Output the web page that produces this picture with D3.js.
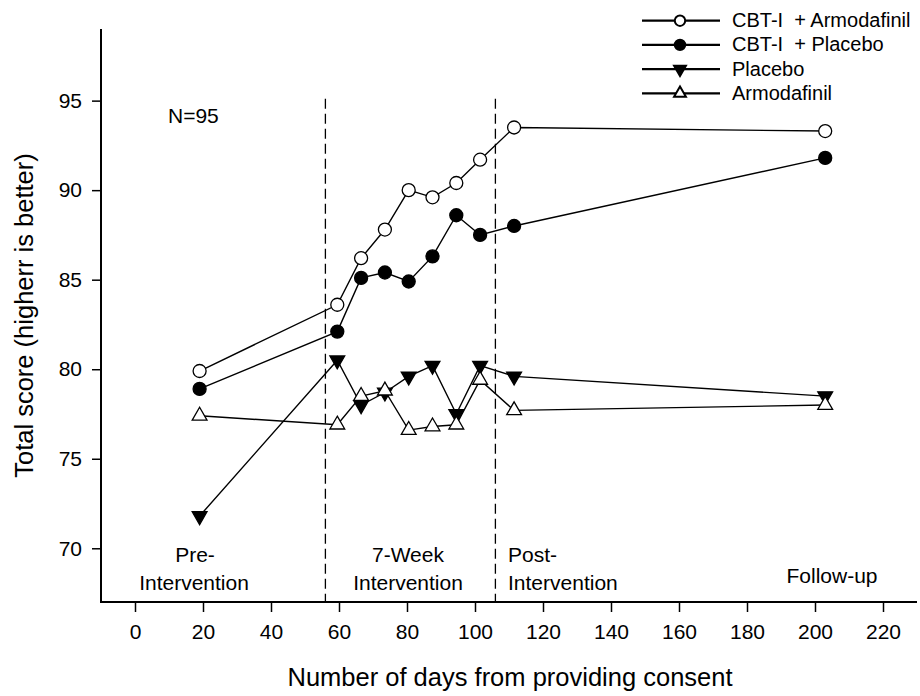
<!DOCTYPE html>
<meta charset="utf-8">
<script src="https://d3js.org/d3.v7.min.js"></script>
<style>
  body { margin: 0; background: #fff; }
  text { font-family: "Liberation Sans", Arial, sans-serif; fill: #000; }
</style>
<svg id="chart" width="920" height="696"></svg>
<script>

// data
var days = [19, 59.5, 66.5, 73.5, 80.5, 87.5, 94.5, 101.5, 111.5, 203];
var cbtArmodafinil = [79.9, 83.6, 86.2, 87.8, 90.0, 89.6, 90.4, 91.7, 93.5, 93.3];
var cbtPlacebo     = [78.9, 82.1, 85.1, 85.4, 84.9, 86.3, 88.6, 87.5, 88.0, 91.8];
var placebo        = [71.8, 80.5, 78.0, 78.7, 79.6, 80.2, 77.5, 80.2, 79.6, 78.5];
var armodafinil    = [77.4, 76.9, 78.5, 78.8, 76.6, 76.8, 76.9, 79.4, 77.7, 78.0];

var seriesNames = ["CBT-I  + Armodafinil", "CBT-I  + Placebo", "Placebo", "Armodafinil"];
var xTicks = [0, 20, 40, 60, 80, 100, 120, 140, 160, 180, 200, 220];
var yTicks = [70, 75, 80, 85, 90, 95];
var phaseBounds = [56, 106];

var svg = d3.select("#chart");

var x = d3.scaleLinear().domain([-10, 230]).range([101, 917]);
var y = d3.scaleLinear().domain([67, 99]).range([602, 29]);

// series table: marker style per group
var series = [
  { name: seriesNames[0], values: cbtArmodafinil, shape: "circle", fill: "#fff" },
  { name: seriesNames[1], values: cbtPlacebo, shape: "circle", fill: "#000" },
  { name: seriesNames[2], values: placebo, shape: "down", fill: "#000" },
  { name: seriesNames[3], values: armodafinil, shape: "up", fill: "#fff" }
];

function marker(sel, shape, scale) {
  if (shape == "circle") {
    return sel.append("circle").attr("r", 6.5 * scale);
  }
  return sel.append("path")
    .attr("d", d3.symbol().type(d3.symbolTriangle).size(95 * scale * scale)())
    .attr("transform", shape == "down" ? "rotate(180)" : null);
}

// axes
var xAxis = svg.append("g")
  .attr("transform", "translate(0,603)")
  .call(d3.axisBottom(x).tickValues(xTicks).tickSize(9).tickPadding(12));
var yAxis = svg.append("g")
  .attr("transform", "translate(101,0)")
  .call(d3.axisLeft(y).tickValues(yTicks).tickSize(9).tickPadding(10));

[xAxis, yAxis].forEach(function(a) {
  a.select(".domain").remove();
  a.selectAll(".tick line").attr("stroke", "#000").attr("stroke-width", 1.5);
  a.selectAll(".tick text").attr("font-size", 21).style("font-family", "Liberation Sans, Arial, sans-serif");
});

svg.append("line").attr("x1", 101).attr("x2", 101).attr("y1", y(99)).attr("y2", 603)
  .attr("stroke", "#000").attr("stroke-width", 2);
svg.append("line").attr("x1", 100).attr("x2", x(230)).attr("y1", 602).attr("y2", 602)
  .attr("stroke", "#000").attr("stroke-width", 2);

// phase boundaries
svg.selectAll(".phase")
  .data(phaseBounds)
  .enter()
  .append("line")
    .attr("x1", function(d) { return x(d); })
    .attr("x2", function(d) { return x(d); })
    .attr("y1", y(95.1))
    .attr("y2", 601)
    .attr("stroke", "#000")
    .attr("stroke-width", 1.3)
    .attr("stroke-dasharray", "10,5");

// lines
var line = d3.line()
  .x(function(d, i) { return x(days[i]); })
  .y(function(d) { return y(d); });

series.forEach(function(s) {
  svg.append("path")
    .attr("d", line(s.values))
    .attr("fill", "none")
    .attr("stroke", "#000")
    .attr("stroke-width", 1.4);
});

// markers
series.forEach(function(s) {
  s.values.forEach(function(v, i) {
    var g = svg.append("g").attr("transform", "translate(" + x(days[i]) + "," + y(v) + ")");
    marker(g, s.shape, 1).attr("fill", s.fill).attr("stroke", "#000").attr("stroke-width", 1.3);
  });
});

// legend
var legend = svg.append("g");
series.forEach(function(s, i) {
  var ly = 20.7 + i * 24.2;
  legend.append("line").attr("x1", 642).attr("x2", 720).attr("y1", ly).attr("y2", ly)
    .attr("stroke", "#000").attr("stroke-width", 2.2);
  var g = legend.append("g").attr("transform", "translate(680," + ly + ")");
  marker(g, s.shape, 0.8).attr("fill", s.fill).attr("stroke", "#000").attr("stroke-width", 2);
  legend.append("text").attr("x", 732).attr("y", ly + 6.5)
    .attr("font-size", 20).style("white-space", "pre").text(s.name);
});

// annotations
function label(tx, ty, txt, anchor) {
  svg.append("text").attr("x", tx).attr("y", ty).attr("font-size", 21)
    .attr("text-anchor", anchor || "middle").text(txt);
}
label(168, 122.5, "N=95", "start");
label(195, 562, "Pre-");
label(194, 590, "Intervention");
label(408, 562, "7-Week");
label(408, 590, "Intervention");
label(508, 562, "Post-", "start");
label(508, 590, "Intervention", "start");
label(832, 583, "Follow-up");

// axis titles
svg.append("text")
  .attr("x", 510).attr("y", 686)
  .attr("text-anchor", "middle").attr("font-size", 25.5)
  .text("Number of days from providing consent");
svg.append("text")
  .attr("transform", "translate(33,315.5) rotate(-90)")
  .attr("text-anchor", "middle").attr("font-size", 25.5)
  .text("Total score (higherr is better)");

</script>
